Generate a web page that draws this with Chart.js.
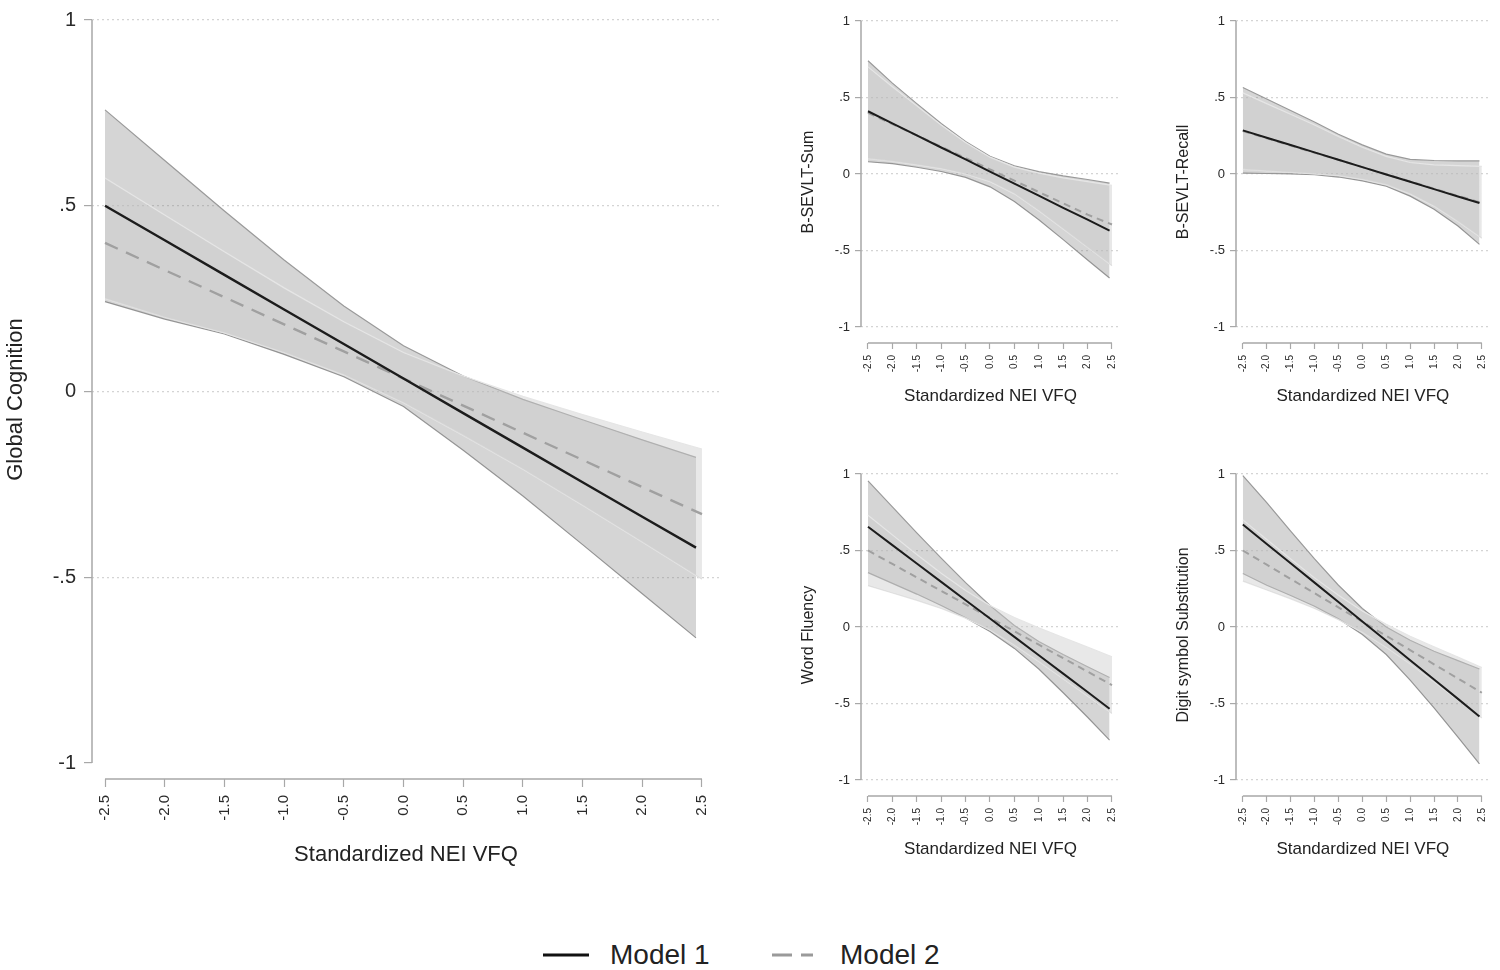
<!DOCTYPE html>
<html>
<head>
<meta charset="utf-8">
<script src="https://cdn.jsdelivr.net/npm/chart.js@4.4.0/dist/chart.umd.min.js"></script>
<style>
    body { margin: 0; background: #fff; width: 1500px; height: 970px; position: relative; overflow: hidden; font-family: "Liberation Sans", Arial, sans-serif; }
    canvas { position: absolute; }
    .leg-line { position: absolute; }
    .leg-text { position: absolute; font-size: 28px; line-height: 34px; color: #222; }
</style>
</head>
<body>
<canvas id="gc" width="740" height="900" style="left:0;top:0"></canvas>
<canvas id="sum" width="350" height="430" style="left:782px;top:0"></canvas>
<canvas id="recall" width="343" height="430" style="left:1157px;top:0"></canvas>
<canvas id="fluency" width="350" height="430" style="left:782px;top:453px"></canvas>
<canvas id="dsst" width="343" height="430" style="left:1157px;top:453px"></canvas>

<svg class="leg-line" width="46" height="20" style="left:543px;top:945px"><line x1="0" y1="10" x2="46" y2="10" stroke="#111" stroke-width="3"/></svg>
<div class="leg-text" style="left:610px;top:938px">Model 1</div>
<svg class="leg-line" width="46" height="20" style="left:772px;top:945px"><line x1="0" y1="10" x2="46" y2="10" stroke="#9a9a9a" stroke-width="3" stroke-dasharray="20 9 12 100"/></svg>
<div class="leg-text" style="left:840px;top:938px">Model 2</div>

<script>
// x positions of the fitted values (model 1 stops a bit short of 2.5)
const xM1 = [-2.5, -2, -1.5, -1, -0.5, 0, 0.5, 1, 1.5, 2, 2.45];
const xM2 = [-2.5, -2, -1.5, -1, -0.5, 0, 0.5, 1, 1.5, 2, 2.5];

const xTickVals = [-2.5, -2, -1.5, -1, -0.5, 0, 0.5, 1, 1.5, 2, 2.5];
const xTickLabels = ['-2.5', '-2.0', '-1.5', '-1.0', '-0.5', '0.0', '0.5', '1.0', '1.5', '2.0', '2.5'];
const yTickVals = [-1, -0.5, 0, 0.5, 1];
const yTickLabels = ['-1', '-.5', '0', '.5', '1'];
const xTitle = 'Standardized NEI VFQ';

// Global Cognition
const gcM1 = [0.50, 0.407, 0.314, 0.221, 0.128, 0.035, -0.058, -0.151, -0.244, -0.337, -0.42];
const gcM1Hi = [0.758, 0.622, 0.486, 0.354, 0.23, 0.123, 0.042, -0.021, -0.076, -0.13, -0.177];
const gcM1Lo = [0.242, 0.195, 0.155, 0.10, 0.04, -0.04, -0.158, -0.281, -0.412, -0.544, -0.663];
const gcM2 = [0.40, 0.327, 0.254, 0.181, 0.108, 0.035, -0.038, -0.111, -0.184, -0.257, -0.33];
const gcM2Hi = [0.575, 0.475, 0.376, 0.279, 0.188, 0.105, 0.042, -0.013, -0.062, -0.109, -0.155];
const gcM2Lo = [0.25, 0.2, 0.158, 0.105, 0.045, -0.03, -0.118, -0.209, -0.306, -0.405, -0.505];

// B-SEVLT-Sum
const sumM1 = [0.41, 0.331, 0.252, 0.173, 0.095, 0.016, -0.063, -0.142, -0.221, -0.299, -0.37];
const sumM1Hi = [0.74, 0.594, 0.46, 0.33, 0.212, 0.116, 0.054, 0.015, -0.013, -0.036, -0.06];
const sumM1Lo = [0.08, 0.068, 0.044, 0.016, -0.022, -0.084, -0.18, -0.299, -0.429, -0.562, -0.68];
const sumM2 = [0.40, 0.326, 0.252, 0.178, 0.104, 0.03, -0.044, -0.118, -0.192, -0.266, -0.33];
const sumM2Hi = [0.70, 0.57, 0.445, 0.32, 0.205, 0.11, 0.045, 0.005, -0.025, -0.05, -0.075];
const sumM2Lo = [0.10, 0.082, 0.06, 0.035, 0.0, -0.05, -0.13, -0.24, -0.36, -0.48, -0.6];

// B-SEVLT-Recall
const recM1 = [0.285, 0.237, 0.189, 0.141, 0.093, 0.045, -0.003, -0.051, -0.099, -0.147, -0.19];
const recM1Hi = [0.565, 0.49, 0.415, 0.34, 0.26, 0.19, 0.13, 0.095, 0.088, 0.085, 0.085];
const recM1Lo = [0.005, 0.003, 0.0, -0.005, -0.02, -0.045, -0.08, -0.145, -0.23, -0.34, -0.46];
const recM2 = [0.28, 0.233, 0.186, 0.139, 0.092, 0.045, -0.002, -0.049, -0.096, -0.143, -0.19];
const recM2Hi = [0.53, 0.46, 0.39, 0.32, 0.245, 0.175, 0.115, 0.075, 0.06, 0.055, 0.05];
const recM2Lo = [0.03, 0.02, 0.01, 0.0, -0.01, -0.035, -0.07, -0.13, -0.21, -0.31, -0.42];

// Word Fluency
const fluM1 = [0.655, 0.535, 0.415, 0.295, 0.175, 0.055, -0.065, -0.185, -0.305, -0.425, -0.535];
const fluM1Hi = [0.955, 0.785, 0.615, 0.45, 0.29, 0.14, 0.01, -0.095, -0.18, -0.26, -0.33];
const fluM1Lo = [0.355, 0.285, 0.215, 0.14, 0.06, -0.03, -0.14, -0.275, -0.43, -0.59, -0.74];
const fluM2 = [0.50, 0.412, 0.324, 0.236, 0.148, 0.06, -0.028, -0.116, -0.204, -0.292, -0.38];
const fluM2Hi = [0.73, 0.602, 0.474, 0.351, 0.238, 0.14, 0.062, -0.006, -0.069, -0.132, -0.195];
const fluM2Lo = [0.27, 0.222, 0.174, 0.121, 0.058, -0.02, -0.118, -0.226, -0.339, -0.452, -0.565];

// Digit symbol Substitution
const dsM1 = [0.67, 0.543, 0.416, 0.29, 0.163, 0.036, -0.09, -0.217, -0.344, -0.47, -0.585];
const dsM1Hi = [0.99, 0.813, 0.626, 0.445, 0.273, 0.121, 0.0, -0.087, -0.159, -0.22, -0.275];
const dsM1Lo = [0.35, 0.273, 0.206, 0.135, 0.053, -0.049, -0.18, -0.347, -0.529, -0.72, -0.895];
const dsM2 = [0.50, 0.407, 0.314, 0.221, 0.128, 0.035, -0.058, -0.151, -0.244, -0.337, -0.43];
const dsM2Hi = [0.70, 0.572, 0.444, 0.321, 0.208, 0.105, 0.017, -0.061, -0.129, -0.197, -0.265];
const dsM2Lo = [0.30, 0.242, 0.184, 0.121, 0.048, -0.035, -0.133, -0.241, -0.359, -0.477, -0.595];

Chart.defaults.font.family = '"Liberation Sans", Arial, sans-serif';
Chart.defaults.color = '#222';

const pts = (xs, ys) => xs.map((x, i) => ({ x, y: ys[i] }));

// stata style axis lines: only as long as the tick range
const axisLines = {
    id: 'axisLines',
    beforeDatasetsDraw(chart) {
        const { ctx, chartArea, scales: { x, y } } = chart;
        ctx.save();
        ctx.strokeStyle = '#a8a8a8';
        ctx.lineWidth = 1.5;
        ctx.beginPath();
        ctx.moveTo(chartArea.left, y.getPixelForValue(yTickVals[yTickVals.length - 1]));
        ctx.lineTo(chartArea.left, y.getPixelForValue(yTickVals[0]));
        ctx.moveTo(x.getPixelForValue(xTickVals[0]), chartArea.bottom);
        ctx.lineTo(x.getPixelForValue(xTickVals[xTickVals.length - 1]), chartArea.bottom);
        ctx.stroke();
        ctx.restore();
    }
};

const bigGeo = {
    padTop: 15, padRight: 20, yAxisW: 92, xAxisH: 121,
    xMin: -2.609, xMax: 2.651, yMin: -1.0428, yMax: 1,
    tick: 8, xPad: 8, yPad: 8, xTickFont: 15, yTickFont: 20,
    xTitleFont: 22, yTitleFont: 22, xTitlePad: 32, yTitlePad: 3,
    lw: 2.4, dash: [14, 9], skipBottomGrid: true
};
const smallGeo = {
    padTop: 21, padRight: 12, yAxisW: 79, xAxisH: 87,
    xMin: -2.643, xMax: 2.664, yMin: -1.105, yMax: 1,
    tick: 6, xPad: 6, yPad: 5, xTickFont: 10, yTickFont: 13,
    xTitleFont: 17, yTitleFont: 16, xTitlePad: 23, yTitlePad: 17,
    lw: 2, dash: [7, 5], skipBottomGrid: false
};
const smallGeoRight = Object.assign({}, smallGeo, { padRight: 5 });

function makePanel(id, yTitle, s, g) {
    new Chart(document.getElementById(id), {
        type: 'line',
        data: {
            datasets: [
                { data: pts(xM1, s.m1), borderColor: '#1c1c1c', borderWidth: g.lw, order: 0 },
                { data: pts(xM2, s.m2), borderColor: '#a0a0a0', borderWidth: g.lw, borderDash: g.dash, order: 1 },
                { data: pts(xM2, s.m2Hi), borderColor: '#e6e6e6', borderWidth: 1.2, fill: 3, backgroundColor: 'rgba(205,205,205,0.45)', order: 2 },
                { data: pts(xM2, s.m2Lo), borderColor: '#e6e6e6', borderWidth: 1.2, order: 3 },
                { data: pts(xM1, s.m1Hi), borderColor: '#9a9a9a', borderWidth: 1.2, fill: 5, backgroundColor: 'rgba(125,125,125,0.32)', order: 4 },
                { data: pts(xM1, s.m1Lo), borderColor: '#9a9a9a', borderWidth: 1.2, order: 5 }
            ]
        },
        options: {
            responsive: false,
            animation: false,
            layout: { autoPadding: false, padding: { left: 0, top: g.padTop, right: g.padRight, bottom: 0 } },
            elements: { point: { radius: 0 }, line: { tension: 0, fill: false } },
            plugins: { legend: { display: false }, tooltip: { enabled: false } },
            scales: {
                x: {
                    type: 'linear', min: g.xMin, max: g.xMax,
                    afterBuildTicks: sc => { sc.ticks = xTickVals.map(v => ({ value: v })); },
                    afterFit: sc => { sc.height = g.xAxisH; },
                    grid: { drawOnChartArea: false, drawTicks: true, tickLength: g.tick, tickColor: '#a8a8a8', tickWidth: 1.2 },
                    border: { display: false },
                    ticks: {
                        autoSkip: false, minRotation: 90, maxRotation: 90, padding: g.xPad,
                        color: '#2a2a2a', font: { size: g.xTickFont },
                        callback: v => xTickLabels[xTickVals.indexOf(v)]
                    },
                    title: { display: true, text: xTitle, color: '#222', font: { size: g.xTitleFont }, padding: { top: 0, bottom: g.xTitlePad } }
                },
                y: {
                    type: 'linear', min: g.yMin, max: g.yMax,
                    afterBuildTicks: sc => { sc.ticks = yTickVals.map(v => ({ value: v })); },
                    afterFit: sc => { sc.width = g.yAxisW; },
                    grid: {
                        color: c => (g.skipBottomGrid && c.tick && c.tick.value === -1) ? 'rgba(0,0,0,0)' : '#d4d4d4',
                        lineWidth: 1.2, tickLength: g.tick, tickColor: '#a8a8a8', tickWidth: 1.2
                    },
                    border: { display: false, dash: [2, 3] },
                    ticks: {
                        padding: g.yPad, color: '#2a2a2a', font: { size: g.yTickFont },
                        callback: v => yTickLabels[yTickVals.indexOf(v)]
                    },
                    title: { display: true, text: yTitle, color: '#222', font: { size: g.yTitleFont }, padding: { top: g.yTitlePad, bottom: 0 } }
                }
            }
        },
        plugins: [axisLines]
    });
}

makePanel('gc', 'Global Cognition', { m1: gcM1, m1Hi: gcM1Hi, m1Lo: gcM1Lo, m2: gcM2, m2Hi: gcM2Hi, m2Lo: gcM2Lo }, bigGeo);
makePanel('sum', 'B-SEVLT-Sum', { m1: sumM1, m1Hi: sumM1Hi, m1Lo: sumM1Lo, m2: sumM2, m2Hi: sumM2Hi, m2Lo: sumM2Lo }, smallGeo);
makePanel('recall', 'B-SEVLT-Recall', { m1: recM1, m1Hi: recM1Hi, m1Lo: recM1Lo, m2: recM2, m2Hi: recM2Hi, m2Lo: recM2Lo }, smallGeoRight);
makePanel('fluency', 'Word Fluency', { m1: fluM1, m1Hi: fluM1Hi, m1Lo: fluM1Lo, m2: fluM2, m2Hi: fluM2Hi, m2Lo: fluM2Lo }, smallGeo);
makePanel('dsst', 'Digit symbol Substitution', { m1: dsM1, m1Hi: dsM1Hi, m1Lo: dsM1Lo, m2: dsM2, m2Hi: dsM2Hi, m2Lo: dsM2Lo }, smallGeoRight);
</script>
</body>
</html>
